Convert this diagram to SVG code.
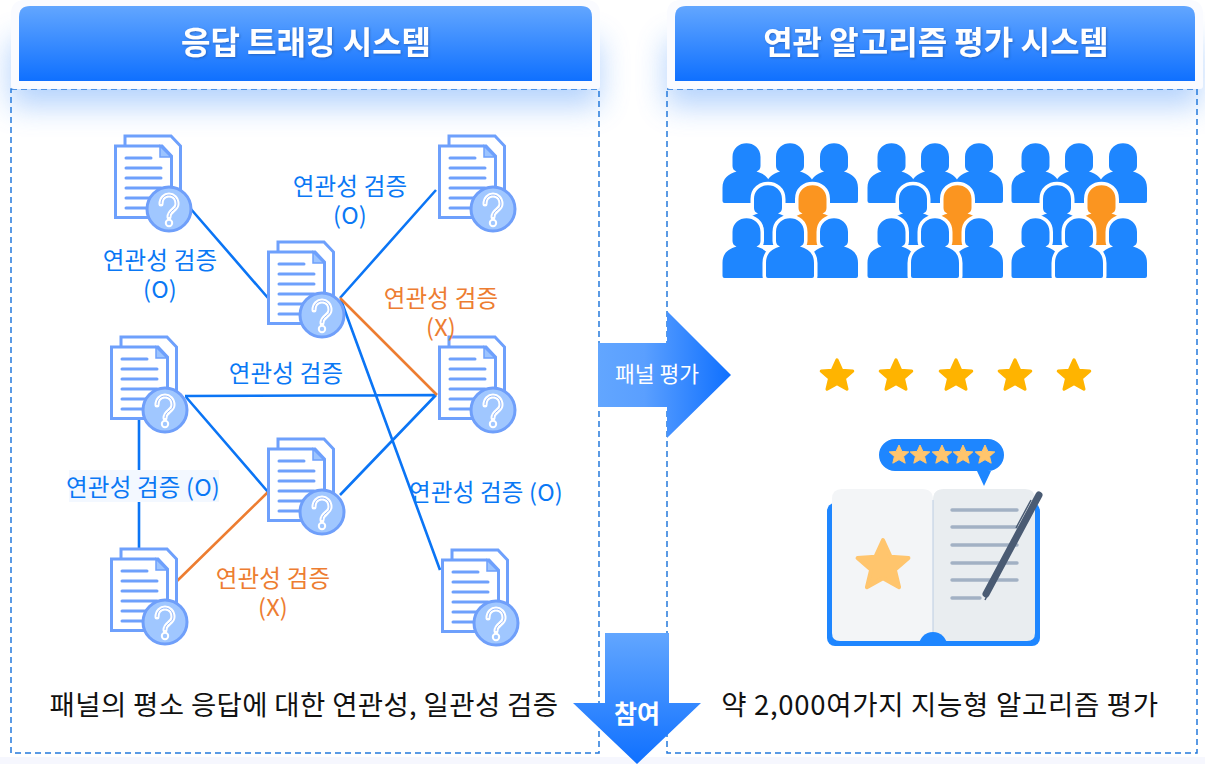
<svg xmlns="http://www.w3.org/2000/svg" width="1205" height="764" viewBox="0 0 1205 764">
<style>
text{font-family:"Noto Sans CJK KR","Noto Sans",sans-serif;text-anchor:middle}
.lb{fill:#0a78f5;font-size:23.5px;letter-spacing:.2px}
.lo{fill:#ed7d31;font-size:23.5px;letter-spacing:.2px}
.bk{fill:#111;font-size:27.500px;letter-spacing:.35px}
.hd{fill:#fff;font-size:32px;font-weight:700;filter:url(#ts)}
.ar{fill:#fff;font-size:21.500px}
.dash{fill:none;stroke:#2579dc;stroke-width:1.5;stroke-dasharray:6 4}
.cb{stroke:#0b75f5;stroke-width:2.6;fill:none}
.co{stroke:#ed7d31;stroke-width:2.6;fill:none}
.p{fill:#1e86ff}
.w{stroke:#fff;stroke-width:7;paint-order:stroke;stroke-linejoin:round}
.ln{stroke:#a2b1c4;stroke-width:3.4;stroke-linecap:round}
</style>
<defs>
<linearGradient id="gv" x1="0" y1="0" x2="0" y2="1"><stop offset="0" stop-color="#62a6ff"/><stop offset="1" stop-color="#0f70ff"/></linearGradient>
<linearGradient id="gh" x1="0" y1="0" x2="1" y2="0"><stop offset="0" stop-color="#62a6ff"/><stop offset="0.35" stop-color="#5a9fff"/><stop offset="1" stop-color="#0f70ff"/></linearGradient>
<filter id="bl" x="-15%" y="-100%" width="130%" height="300%"><feGaussianBlur stdDeviation="15"/></filter>
<filter id="ts" x="-5%" y="-20%" width="110%" height="140%"><feDropShadow dx="1" dy="1" stdDeviation="0.8" flood-color="#1a4f9f" flood-opacity="0.6"/></filter>
<g id="doc">
<path d="M-44,-63V-73H2L11.500,-63V0" fill="#fff" stroke="#6ea0fc" stroke-width="3"/>
<path d="M-53.500,-63H-7L2.500,-53V8.500H-53.500Z" fill="#fff" stroke="#6ea0fc" stroke-width="3"/>
<path d="M-9,-63V-52H2Z" fill="#9cc4ff" stroke="#6ea0fc" stroke-width="1.500"/>
<path d="M-43,-51H-18M-43,-41H-8M-43,-31H-8M-43,-21H-8M-43,-11H-8M-43,-1H-8" stroke="#6ea0fc" stroke-width="3" stroke-linecap="round" fill="none"/>
<circle r="22" fill="#a0c7ff" stroke="#6f9ffa" stroke-width="3"/>
<path d="M-8,-5C-8,-17 8,-17 8,-5C8,1 0,1 0,8" fill="none" stroke="#fff" stroke-width="5" stroke-linecap="round"/>
<path d="M-8,-5C-8,-17 8,-17 8,-5C8,1 0,1 0,8" fill="none" stroke="#8fb6fc" stroke-width="1"/>
<circle cx="0" cy="14" r="3.200" fill="#a0c7ff" stroke="#fff" stroke-width="2"/>
</g>
<path id="pn" d="M-14,14C-14,-4.500 14,-4.500 14,14V23Q14,27 10,28.500C18,31 24,35 24,45V58Q24,60 22,60H-22Q-24,60 -24,58V45C-24,35 -18,31 -10,28.500Q-14,27 -14,23Z"/>
<g id="crowd">
<use href="#pn" x="24.500" y="0" class="p"/><use href="#pn" x="112" y="0" class="p"/><use href="#pn" x="68" y="0" class="p"/>
<use href="#pn" x="46" y="42" class="p w"/><use href="#pn" x="90.500" y="42" class="w" fill="#fb9520"/>
<use href="#pn" x="24.500" y="75" class="p w"/><use href="#pn" x="112" y="75" class="p w"/><use href="#pn" x="68" y="75" class="p w"/>
</g>
<path id="st" d="M0,-10L2.900,-3.600 9.800,-3.100 4.600,1.500 6.200,8.200 0,4.700 -6.200,8.200 -4.600,1.500 -9.800,-3.100 -2.900,-3.600Z" stroke-linejoin="round"/>
</defs>
<rect width="1205" height="764" fill="#fff"/>
<g id="frames">
<rect x="10" y="40" width="590" height="66" fill="#4d96fa" opacity="0.42" filter="url(#bl)"/>
<rect x="666" y="40" width="535" height="66" fill="#4d96fa" opacity="0.42" filter="url(#bl)"/>
<rect x="0" y="757" width="1205" height="7" fill="#f6f7fe"/>
<rect class="dash" x="11" y="89" width="588" height="664"/>
<rect class="dash" x="667" y="89" width="530" height="664"/>
</g>
<g id="header-left">
<path d="M11,86V14Q11,0 25,0H586Q600,0 600,14V86Q600,89 597,89H14Q11,89 11,86Z" fill="#fafbff"/>
<path d="M19,81V17Q19,6 30,6H581Q592,6 592,17V81Z" fill="url(#gv)"/>
<text class="hd" x="306" y="54">응답 트래킹 시스템</text>
</g>
<g id="header-right">
<path d="M667,86V14Q667,0 681,0H1189Q1203,0 1203,14V86Q1203,89 1200,89H670Q667,89 667,86Z" fill="#fafbff"/>
<path d="M675,81V17Q675,6 686,6H1184Q1195,6 1195,17V81Z" fill="url(#gv)"/>
<text class="hd" x="936" y="54">연관 알고리즘 평가 시스템</text>
</g>
<g id="connectors">
<path class="cb" d="M190,208L268,298M340,298L436,190M341,300L440,570M185,396L436,395M186,397L268,492M340,495L436,395M139,420V552"/>
<path class="co" d="M340,298L437,395M176,582L268,492"/>
</g>
<g id="doc1"><use href="#doc" x="169" y="209"/></g>
<g id="doc2"><use href="#doc" x="322" y="315"/></g>
<g id="doc3"><use href="#doc" x="493" y="209"/></g>
<g id="doc4"><use href="#doc" x="165" y="410"/></g>
<g id="doc5"><use href="#doc" x="493" y="410"/></g>
<g id="doc6"><use href="#doc" x="322" y="512"/></g>
<g id="doc7"><use href="#doc" x="165" y="622"/></g>
<g id="doc8"><use href="#doc" x="496" y="623"/></g>
<g id="labels">
<text class="lb"><tspan x="160" y="269">연관성 검증</tspan><tspan x="160" y="298">(O)</tspan></text>
<text class="lb"><tspan x="350" y="195">연관성 검증</tspan><tspan x="350" y="224">(O)</tspan></text>
<text class="lo"><tspan x="441" y="307">연관성 검증</tspan><tspan x="441" y="336">(X)</tspan></text>
<text class="lb" x="286" y="382">연관성 검증</text>
<rect x="69" y="470" width="150" height="32" fill="#f3f8ff"/>
<text class="lb" x="143" y="496">연관성 검증 (O)</text>
<text class="lb" x="486" y="501">연관성 검증 (O)</text>
<text class="lo"><tspan x="273" y="587">연관성 검증</tspan><tspan x="273" y="616">(X)</tspan></text>
<text class="bk" x="304" y="715">패널의 평소 응답에 대한 연관성, 일관성 검증</text>
<text class="bk" x="940" y="715" style="letter-spacing:.7px">약 2,000여가지 지능형 알고리즘 평가</text>
</g>
<g id="arrow-right">
<path d="M598,343H667V311L731,375L667,438V407H598Z" fill="url(#gh)"/>
<text class="ar" x="657" y="382">패널 평가</text>
</g>
<g id="arrow-down">
<path d="M605,633H669V703H701L637,764L573,703H605Z" fill="url(#gv)"/>
<text class="ar" x="637" y="723" style="font-weight:700;font-size:25px">참여</text>
</g>
<g id="crowds">
<use href="#crowd" x="722" y="143"/><use href="#crowd" x="867" y="143"/><use href="#crowd" x="1011" y="143"/>
</g>
<g id="stars" fill="#ffb400" stroke="#ffb400" stroke-width="2">
<use href="#st" transform="translate(837,376) scale(1.6)"/>
<use href="#st" transform="translate(896,376) scale(1.6)"/>
<use href="#st" transform="translate(956,376) scale(1.6)"/>
<use href="#st" transform="translate(1015,376) scale(1.6)"/>
<use href="#st" transform="translate(1074,376) scale(1.6)"/>
</g>
<g id="book">
<rect x="827" y="503" width="213" height="143" rx="8" fill="#1e86ff"/>
<path d="M832,499Q832,489 842,489H922Q933,489 933,500V641H840Q832,641 832,633Z" fill="#f3f5f7"/>
<path d="M933,500Q933,489 944,489H1025Q1035,489 1035,499V633Q1035,641 1027,641H933Z" fill="#e9edf0"/>
<path d="M933,500V632" stroke="#bccde2" stroke-width="1"/>
<path d="M919,646A14,14 0 0 1 947,646Z" fill="#1e86ff"/>
<path d="M952,510H1017M952,527H1017M952,545H1017M952,563H1017M952,580H1017M952,598H980" class="ln"/>
<path d="M986,594L1039,495" stroke="#4a5b73" stroke-width="7" stroke-linecap="round"/>
<path d="M988,594L985,600" stroke="#4a5b73" stroke-width="1.500"/>
<path d="M1031,500L1016,528" stroke="#4a5b73" stroke-width="1.500"/>
<use href="#st" transform="translate(883,566) scale(2.6)" fill="#ffc56d" stroke="#ffc56d" stroke-width="1.500"/>
<path d="M895,439H988A16,16 0 0 1 988,471H991L984,486L977,471H895A16,16 0 0 1 895,439Z" fill="#1e86ff"/>
<g fill="#ffc56d" stroke="#ffc56d" stroke-width="1">
<use href="#st" x="899" y="455"/><use href="#st" x="920" y="455"/><use href="#st" x="942" y="455"/><use href="#st" x="963" y="455"/><use href="#st" x="985" y="455"/>
</g>
</g>
</svg>
